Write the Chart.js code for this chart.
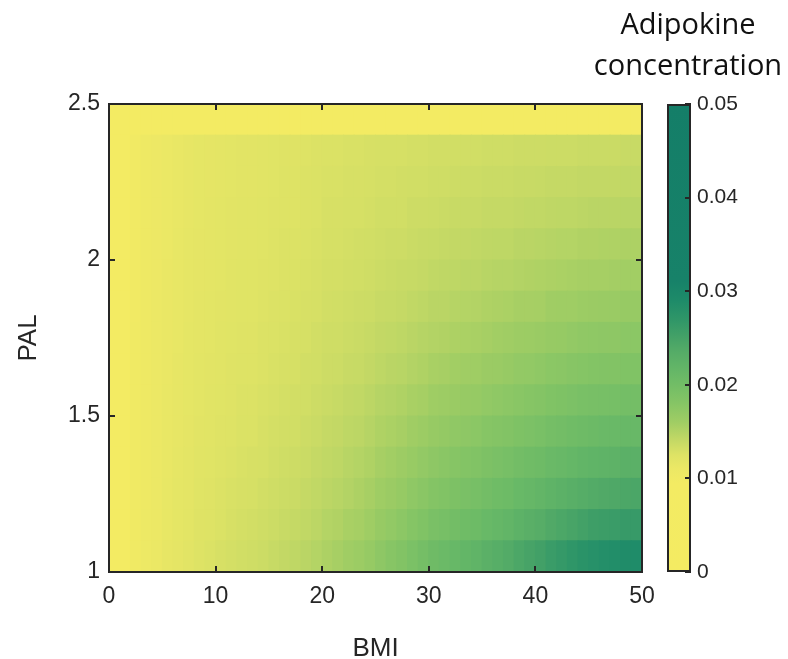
<!DOCTYPE html>
<html lang="en">
<head>
<meta charset="UTF-8">
<title>Adipokine concentration by BMI and PAL</title>
<script src="https://cdn.jsdelivr.net/npm/chart.js"></script>
<style>
  body { margin: 0; background: #fff; }
  #heat { position: absolute; left: 0; top: 0; }
  #bar { position: absolute; left: 588px; top: 0; }
</style>
</head>
<body>
<canvas id="heat" width="788" height="659"></canvas>
<canvas id="bar" width="200" height="659"></canvas>
<script>
// BMI bin centres (1 unit wide) and PAL bin lower edges (0.1 wide)
const bmi = [0.5, 1.5, 2.5, 3.5, 4.5, 5.5, 6.5, 7.5, 8.5, 9.5,
  10.5, 11.5, 12.5, 13.5, 14.5, 15.5, 16.5, 17.5, 18.5, 19.5,
  20.5, 21.5, 22.5, 23.5, 24.5, 25.5, 26.5, 27.5, 28.5, 29.5,
  30.5, 31.5, 32.5, 33.5, 34.5, 35.5, 36.5, 37.5, 38.5, 39.5,
  40.5, 41.5, 42.5, 43.5, 44.5, 45.5, 46.5, 47.5, 48.5, 49.5];
const palLow = [1.0, 1.1, 1.2, 1.3, 1.4, 1.5, 1.6, 1.7, 1.8, 1.9, 2.0, 2.1, 2.2, 2.3, 2.4];
const palStep = 0.1;

// adipokine concentration, one array per PAL row (lowest first)
const pal10 = [0.0075, 0.0093, 0.0102, 0.0107, 0.0111, 0.0115, 0.0118, 0.0121, 0.0125, 0.0127,
  0.0129, 0.0131, 0.0133, 0.0134, 0.0136, 0.0139, 0.0141, 0.0143, 0.0146, 0.0149,
  0.0153, 0.0156, 0.0160, 0.0163, 0.0168, 0.0174, 0.0179, 0.0184, 0.0191, 0.0197,
  0.0204, 0.0208, 0.0213, 0.0217, 0.0221, 0.0227, 0.0232, 0.0237, 0.0243, 0.0248,
  0.0253, 0.0260, 0.0265, 0.0270, 0.0276, 0.0280, 0.0283, 0.0285, 0.0288, 0.0289];
const pal11 = [0.0075, 0.0093, 0.0102, 0.0107, 0.0110, 0.0114, 0.0117, 0.0120, 0.0124, 0.0125,
  0.0127, 0.0129, 0.0131, 0.0132, 0.0134, 0.0136, 0.0138, 0.0140, 0.0142, 0.0145,
  0.0149, 0.0151, 0.0155, 0.0157, 0.0161, 0.0167, 0.0171, 0.0175, 0.0181, 0.0186,
  0.0192, 0.0195, 0.0199, 0.0203, 0.0206, 0.0211, 0.0215, 0.0219, 0.0225, 0.0229,
  0.0233, 0.0239, 0.0243, 0.0247, 0.0252, 0.0256, 0.0258, 0.0260, 0.0263, 0.0263];
const pal12 = [0.0075, 0.0093, 0.0101, 0.0106, 0.0110, 0.0114, 0.0117, 0.0119, 0.0123, 0.0124,
  0.0126, 0.0128, 0.0129, 0.0130, 0.0132, 0.0134, 0.0136, 0.0137, 0.0140, 0.0142,
  0.0145, 0.0147, 0.0150, 0.0153, 0.0156, 0.0161, 0.0164, 0.0168, 0.0173, 0.0177,
  0.0182, 0.0185, 0.0189, 0.0192, 0.0195, 0.0199, 0.0203, 0.0206, 0.0211, 0.0214,
  0.0218, 0.0223, 0.0226, 0.0230, 0.0234, 0.0237, 0.0239, 0.0241, 0.0243, 0.0244];
const pal13 = [0.0075, 0.0093, 0.0101, 0.0106, 0.0110, 0.0113, 0.0116, 0.0119, 0.0122, 0.0123,
  0.0125, 0.0126, 0.0128, 0.0129, 0.0130, 0.0132, 0.0134, 0.0135, 0.0137, 0.0140,
  0.0142, 0.0144, 0.0147, 0.0149, 0.0152, 0.0156, 0.0159, 0.0162, 0.0166, 0.0170,
  0.0174, 0.0177, 0.0180, 0.0183, 0.0185, 0.0189, 0.0192, 0.0195, 0.0199, 0.0202,
  0.0205, 0.0209, 0.0212, 0.0215, 0.0219, 0.0221, 0.0223, 0.0224, 0.0227, 0.0227];
const pal14 = [0.0075, 0.0092, 0.0101, 0.0106, 0.0109, 0.0113, 0.0115, 0.0118, 0.0121, 0.0122,
  0.0124, 0.0125, 0.0127, 0.0127, 0.0129, 0.0131, 0.0132, 0.0133, 0.0135, 0.0137,
  0.0140, 0.0141, 0.0144, 0.0145, 0.0148, 0.0152, 0.0154, 0.0156, 0.0160, 0.0163,
  0.0167, 0.0169, 0.0172, 0.0174, 0.0176, 0.0180, 0.0182, 0.0184, 0.0188, 0.0190,
  0.0193, 0.0197, 0.0199, 0.0202, 0.0205, 0.0207, 0.0209, 0.0210, 0.0212, 0.0212];
const pal15 = [0.0075, 0.0092, 0.0101, 0.0106, 0.0109, 0.0113, 0.0115, 0.0117, 0.0120, 0.0122,
  0.0123, 0.0124, 0.0126, 0.0126, 0.0128, 0.0129, 0.0131, 0.0132, 0.0133, 0.0135,
  0.0137, 0.0139, 0.0141, 0.0142, 0.0145, 0.0148, 0.0150, 0.0152, 0.0155, 0.0157,
  0.0161, 0.0162, 0.0165, 0.0167, 0.0168, 0.0171, 0.0173, 0.0175, 0.0178, 0.0180,
  0.0182, 0.0186, 0.0188, 0.0190, 0.0193, 0.0194, 0.0195, 0.0196, 0.0198, 0.0198];
const pal16 = [0.0075, 0.0092, 0.0101, 0.0106, 0.0109, 0.0112, 0.0115, 0.0117, 0.0120, 0.0121,
  0.0122, 0.0124, 0.0125, 0.0125, 0.0126, 0.0128, 0.0129, 0.0130, 0.0132, 0.0133,
  0.0135, 0.0136, 0.0138, 0.0139, 0.0141, 0.0144, 0.0146, 0.0147, 0.0150, 0.0152,
  0.0155, 0.0156, 0.0159, 0.0160, 0.0161, 0.0164, 0.0165, 0.0167, 0.0170, 0.0171,
  0.0173, 0.0176, 0.0177, 0.0179, 0.0181, 0.0183, 0.0184, 0.0184, 0.0186, 0.0186];
const pal17 = [0.0075, 0.0092, 0.0101, 0.0106, 0.0109, 0.0112, 0.0114, 0.0117, 0.0119, 0.0120,
  0.0122, 0.0123, 0.0124, 0.0124, 0.0126, 0.0127, 0.0128, 0.0129, 0.0130, 0.0132,
  0.0134, 0.0134, 0.0136, 0.0137, 0.0139, 0.0141, 0.0142, 0.0144, 0.0146, 0.0148,
  0.0150, 0.0151, 0.0153, 0.0154, 0.0155, 0.0157, 0.0159, 0.0160, 0.0162, 0.0163,
  0.0165, 0.0167, 0.0168, 0.0170, 0.0172, 0.0173, 0.0174, 0.0174, 0.0176, 0.0176];
const pal18 = [0.0075, 0.0092, 0.0100, 0.0105, 0.0109, 0.0112, 0.0114, 0.0116, 0.0119, 0.0120,
  0.0121, 0.0122, 0.0123, 0.0123, 0.0125, 0.0126, 0.0127, 0.0128, 0.0129, 0.0130,
  0.0132, 0.0133, 0.0134, 0.0135, 0.0136, 0.0138, 0.0139, 0.0140, 0.0142, 0.0144,
  0.0146, 0.0146, 0.0148, 0.0149, 0.0150, 0.0152, 0.0153, 0.0154, 0.0156, 0.0156,
  0.0157, 0.0160, 0.0161, 0.0161, 0.0163, 0.0164, 0.0165, 0.0165, 0.0167, 0.0167];
const pal19 = [0.0075, 0.0092, 0.0100, 0.0105, 0.0108, 0.0112, 0.0114, 0.0116, 0.0118, 0.0119,
  0.0120, 0.0122, 0.0123, 0.0123, 0.0124, 0.0125, 0.0126, 0.0127, 0.0128, 0.0129,
  0.0131, 0.0131, 0.0132, 0.0133, 0.0134, 0.0136, 0.0137, 0.0138, 0.0139, 0.0140,
  0.0142, 0.0143, 0.0144, 0.0145, 0.0145, 0.0147, 0.0148, 0.0148, 0.0150, 0.0151,
  0.0152, 0.0153, 0.0154, 0.0155, 0.0156, 0.0157, 0.0157, 0.0158, 0.0159, 0.0159];
const pal20 = [0.0075, 0.0092, 0.0100, 0.0105, 0.0108, 0.0111, 0.0114, 0.0116, 0.0118, 0.0119,
  0.0120, 0.0121, 0.0122, 0.0122, 0.0123, 0.0125, 0.0126, 0.0126, 0.0127, 0.0128,
  0.0130, 0.0130, 0.0131, 0.0132, 0.0133, 0.0134, 0.0135, 0.0135, 0.0137, 0.0138,
  0.0139, 0.0140, 0.0141, 0.0141, 0.0142, 0.0143, 0.0144, 0.0144, 0.0146, 0.0146,
  0.0147, 0.0148, 0.0149, 0.0149, 0.0151, 0.0151, 0.0152, 0.0152, 0.0153, 0.0153];
const pal21 = [0.0075, 0.0092, 0.0100, 0.0105, 0.0108, 0.0111, 0.0113, 0.0115, 0.0117, 0.0119,
  0.0120, 0.0121, 0.0122, 0.0122, 0.0123, 0.0124, 0.0125, 0.0125, 0.0126, 0.0127,
  0.0129, 0.0129, 0.0130, 0.0130, 0.0131, 0.0133, 0.0133, 0.0133, 0.0135, 0.0135,
  0.0136, 0.0137, 0.0138, 0.0138, 0.0138, 0.0140, 0.0140, 0.0140, 0.0141, 0.0142,
  0.0142, 0.0143, 0.0144, 0.0144, 0.0145, 0.0146, 0.0146, 0.0146, 0.0147, 0.0147];
const pal22 = [0.0075, 0.0092, 0.0100, 0.0105, 0.0108, 0.0111, 0.0113, 0.0115, 0.0117, 0.0118,
  0.0119, 0.0120, 0.0121, 0.0121, 0.0122, 0.0123, 0.0125, 0.0125, 0.0126, 0.0127,
  0.0128, 0.0128, 0.0129, 0.0129, 0.0130, 0.0131, 0.0131, 0.0132, 0.0133, 0.0133,
  0.0134, 0.0134, 0.0135, 0.0136, 0.0136, 0.0137, 0.0137, 0.0137, 0.0138, 0.0138,
  0.0139, 0.0140, 0.0140, 0.0140, 0.0141, 0.0141, 0.0141, 0.0141, 0.0142, 0.0142];
const pal23 = [0.0075, 0.0092, 0.0100, 0.0105, 0.0108, 0.0111, 0.0113, 0.0115, 0.0117, 0.0118,
  0.0119, 0.0120, 0.0121, 0.0121, 0.0122, 0.0123, 0.0124, 0.0124, 0.0125, 0.0126,
  0.0127, 0.0127, 0.0128, 0.0128, 0.0129, 0.0130, 0.0130, 0.0130, 0.0131, 0.0131,
  0.0132, 0.0132, 0.0133, 0.0133, 0.0133, 0.0134, 0.0134, 0.0134, 0.0135, 0.0135,
  0.0135, 0.0136, 0.0136, 0.0136, 0.0137, 0.0137, 0.0137, 0.0137, 0.0138, 0.0138];
const pal24 = [0.0060, 0.0060, 0.0060, 0.0060, 0.0060, 0.0060, 0.0060, 0.0060, 0.0060, 0.0060,
  0.0060, 0.0060, 0.0060, 0.0060, 0.0060, 0.0060, 0.0060, 0.0060, 0.0060, 0.0060,
  0.0060, 0.0060, 0.0060, 0.0060, 0.0060, 0.0060, 0.0060, 0.0060, 0.0060, 0.0060,
  0.0060, 0.0060, 0.0060, 0.0060, 0.0060, 0.0060, 0.0060, 0.0060, 0.0060, 0.0060,
  0.0060, 0.0060, 0.0060, 0.0060, 0.0060, 0.0060, 0.0060, 0.0060, 0.0060, 0.0060];
const rows = [pal10, pal11, pal12, pal13, pal14, pal15, pal16, pal17, pal18, pal19,
  pal20, pal21, pal22, pal23, pal24];

// tick labels
const xTicks = [0, 10, 20, 30, 40, 50];
const yTicks = [1, 1.5, 2, 2.5];
const cbTicks = [0, 0.01, 0.02, 0.03, 0.04, 0.05];
const cbRange = [0, 0.05];

// yellow -> green -> teal colour map
const cmapValues = [0, 0.0095, 0.011, 0.0125, 0.014, 0.016, 0.018, 0.02, 0.0215, 0.0235, 0.025, 0.027, 0.029, 0.031, 0.05];
const cmapColors = ['#f4eb62', '#f3eb63', '#ece865', '#dee365', '#c5d965', '#a0cd64', '#86c565', '#72bd66',
  '#65b767', '#55ac67', '#45a267', '#2f9668', '#1e8b69', '#178269', '#147e68'];

const ink = '#262626';
Chart.defaults.font.family = '"Liberation Sans", Arial, sans-serif';
Chart.defaults.color = ink;

function hexRgb(h) {
  return [1, 3, 5].map(i => parseInt(h.substr(i, 2), 16));
}

function colorFor(v) {
  if (v <= cmapValues[0]) return cmapColors[0];
  for (let i = 1; i < cmapValues.length; i++) {
    if (v <= cmapValues[i]) {
      const t = (v - cmapValues[i - 1]) / (cmapValues[i] - cmapValues[i - 1]);
      const a = hexRgb(cmapColors[i - 1]), b = hexRgb(cmapColors[i]);
      const c = a.map((x, k) => Math.round(x + (b[k] - x) * t));
      return 'rgb(' + c.join(',') + ')';
    }
  }
  return cmapColors[cmapColors.length - 1];
}

const ticksFrom = list => scale => { scale.ticks = list.map(value => ({ value })); };
const plainLabel = v => String(v);

// one floating-bar dataset per PAL row
const datasets = rows.map((vals, i) => ({
  data: vals.map((v, j) => ({ x: bmi[j], y: [palLow[i], palLow[i] + palStep] })),
  backgroundColor: vals.map(colorFor),
  borderWidth: 0,
  barPercentage: 1,
  categoryPercentage: 1,
  inflateAmount: 0.5,
  grouped: false
}));

// box frame with short inward ticks, drawn above the cells
const frameGrid = { drawOnChartArea: false, tickLength: -6, color: ink, lineWidth: 2, offset: false, z: 2 };
const frameBorder = { display: true, color: ink, width: 2, z: 2 };

new Chart(document.getElementById('heat'), {
  type: 'bar',
  data: { datasets },
  options: {
    responsive: false,
    animation: false,
    layout: { padding: { left: 0, top: 104, right: 146, bottom: 0 } },
    plugins: { legend: { display: false }, tooltip: { enabled: false } },
    scales: {
      x: {
        type: 'linear', position: 'bottom', min: 0, max: 50, offset: false,
        afterBuildTicks: ticksFrom(xTicks),
        ticks: { padding: 16.5, maxRotation: 0, font: { size: 23 }, callback: plainLabel },
        grid: frameGrid, border: frameBorder,
        title: { display: true, text: 'BMI', font: { size: 26, lineHeight: 0.8 }, padding: { top: 0, bottom: 0 } },
        afterFit: s => { s.height = 87; }
      },
      x2: {
        type: 'linear', position: 'top', min: 0, max: 50, offset: false,
        afterBuildTicks: ticksFrom(xTicks),
        ticks: { display: false },
        grid: frameGrid, border: frameBorder,
        afterFit: s => { s.height = 0; }
      },
      y: {
        type: 'linear', position: 'left', min: 1, max: 2.5,
        afterBuildTicks: ticksFrom(yTicks),
        ticks: { padding: 15, font: { size: 23 }, callback: plainLabel },
        grid: frameGrid, border: frameBorder,
        title: { display: true, text: 'PAL', font: { size: 26 }, padding: { top: 13, bottom: 0 } },
        afterFit: s => { s.width = 109; }
      },
      y2: {
        type: 'linear', position: 'right', min: 1, max: 2.5,
        afterBuildTicks: ticksFrom(yTicks),
        ticks: { display: false },
        grid: frameGrid, border: frameBorder,
        afterFit: s => { s.width = 0; }
      }
    }
  }
});

// colour bar: a single bar filled with the colour map
function barGradient(context) {
  const chart = context.chart;
  const y = chart.scales.y;
  if (!chart.chartArea || !y) return cmapColors[0];
  const g = chart.ctx.createLinearGradient(0, y.getPixelForValue(cbRange[0]), 0, y.getPixelForValue(cbRange[1]));
  cmapValues.forEach((v, i) => g.addColorStop((v - cbRange[0]) / (cbRange[1] - cbRange[0]), cmapColors[i]));
  return g;
}

new Chart(document.getElementById('bar'), {
  type: 'bar',
  data: {
    labels: [''],
    datasets: [{
      data: [cbRange],
      backgroundColor: barGradient,
      borderColor: ink,
      borderWidth: 2,
      borderSkipped: false,
      barPercentage: 1,
      categoryPercentage: 1,
      inflateAmount: 0
    }]
  },
  options: {
    responsive: false,
    animation: false,
    layout: { padding: { left: 0, top: 0, right: 0, bottom: 87 } },
    plugins: {
      legend: { display: false },
      tooltip: { enabled: false },
      title: {
        display: true,
        text: ['Adipokine', 'concentration'],
        color: '#111',
        font: { family: '"Open Sans", "Noto Sans", sans-serif', size: 29, weight: 'normal', lineHeight: 1.41 },
        padding: { top: 5, bottom: 17.2 }
      }
    },
    scales: {
      x: { display: false },
      yl: {
        position: 'left', min: cbRange[0], max: cbRange[1],
        ticks: { display: false }, grid: { display: false }, border: { display: false },
        afterFit: s => { s.width = 79; }
      },
      y: {
        position: 'right', min: cbRange[0], max: cbRange[1],
        afterBuildTicks: ticksFrom(cbTicks),
        ticks: { padding: 12, font: { size: 21 }, callback: plainLabel },
        grid: { drawOnChartArea: false, tickLength: -6, color: ink, lineWidth: 2, z: 2 },
        border: { display: false },
        afterFit: s => { s.width = 97; }
      }
    }
  }
});
</script>
</body>
</html>
